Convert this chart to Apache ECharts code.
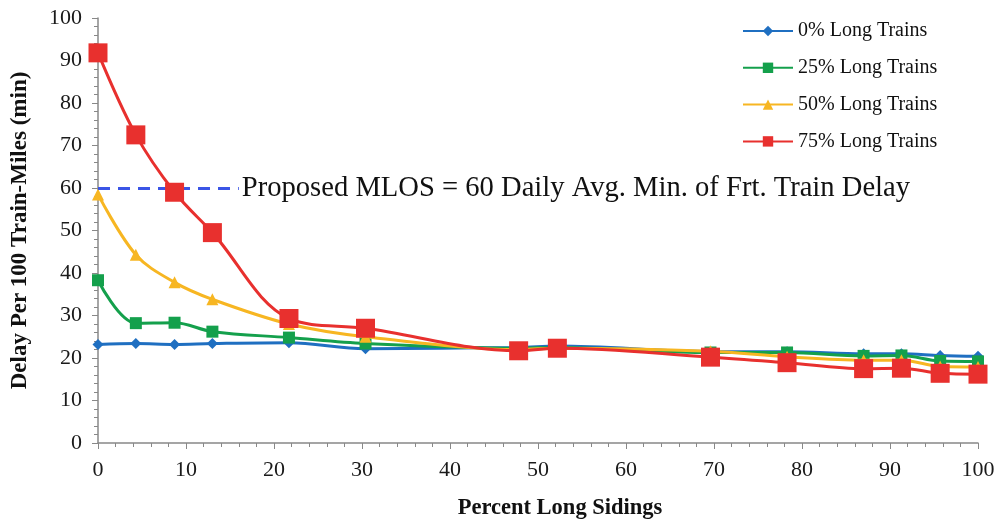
<!DOCTYPE html>
<html><head><meta charset="utf-8">
<script src="https://cdn.jsdelivr.net/npm/echarts@6/dist/echarts.min.js"></script>
<style>html,body{margin:0;padding:0;background:#fff}#c{width:999px;height:520px}</style>
</head><body><div id="c"></div>
<script>
const xValues = [0, 4.3, 8.7, 13.0, 21.7, 30.4, 47.8, 52.2, 69.6, 78.3, 87.0, 91.3, 95.7, 100];
const seriesNames = ['0% Long Trains', '25% Long Trains', '50% Long Trains', '75% Long Trains'];
const trains0 = [23.2, 23.4, 23.2, 23.4, 23.6, 22.2, 22.5, 22.8, 21.5, 21.5, 21.0, 21.0, 20.6, 20.4];
const trains25 = [38.3, 28.2, 28.3, 26.2, 24.8, 23.4, 22.3, 22.5, 21.3, 21.3, 20.5, 20.6, 19.3, 19.2];
const trains50 = [58.5, 44.3, 37.8, 33.8, 28.0, 25.0, 22.0, 22.3, 21.6, 20.3, 19.5, 19.5, 18.0, 17.9];
const trains75 = [91.8, 72.5, 59.0, 49.5, 29.3, 27.0, 21.7, 22.3, 20.2, 18.9, 17.5, 17.6, 16.4, 16.2];
const mlosValue = 60;
const mlosEndX = 16;
const mlosLabel = 'Proposed MLOS = 60 Daily Avg. Min. of Frt. Train Delay';
const xTicks = [0,10,20,30,40,50,60,70,80,90,100];

const pair = arr => xValues.map((x, i) => [x, arr[i]]);
const serif = '"Liberation Serif", "Times New Roman", serif';
const colors = ['#1f6fc1', '#14a04c', '#f7b622', '#e8302e'];
const symbols = ['diamond', 'rect', 'triangle', 'rect'];
const sizes = [11, 12, 12, 19];
const data = [trains0, trains25, trains50, trains75];

const series = data.map((d, i) => ({
  name: seriesNames[i], type: 'line', data: pair(d), smooth: 0.35,
  symbol: symbols[i], symbolSize: sizes[i], z: 2 + i,
  lineStyle: { width: 3, color: colors[i] },
  itemStyle: { color: colors[i] }
}));
series[0].markLine = {
  silent: true, symbol: 'none',
  lineStyle: { type: [12, 8], width: 3, color: '#3b55e6' },
  label: { show: true, position: 'end', formatter: mlosLabel, fontFamily: serif, fontSize: 28.6, color: '#111', distance: 3 },
  data: [[{ coord: [0, mlosValue] }, { coord: [mlosEndX, mlosValue] }]]
};

const chart = echarts.init(document.getElementById('c'));
chart.setOption({
  animation: false,
  color: colors,
  grid: { left: 98, right: 21, top: 18, bottom: 77, outerBoundsMode: 'none', containLabel: false },
  legend: {
    orient: 'vertical', left: 737, top: 16, itemGap: 16.8,
    itemWidth: 50, itemHeight: 13,
    textStyle: { fontFamily: serif, fontSize: 20, color: '#111' },
    data: seriesNames
  },
  xAxis: {
    type: 'value', min: 0, max: 100, interval: 10,
    name: 'Percent Long Sidings', nameLocation: 'middle', nameGap: 54,
    nameTextStyle: { fontFamily: serif, fontSize: 22.5, fontWeight: 'bold', color: '#111', padding: [0, 0, 0, 44] },
    axisLine: { lineStyle: { color: '#888', width: 1.5 } },
    axisTick: { show: true, length: 6, lineStyle: { color: '#888' } },
    minorTick: { show: true, splitNumber: 5, length: 4, lineStyle: { color: '#888' } },
    splitLine: { show: false },
    axisLabel: { fontFamily: serif, fontSize: 22, color: '#1a1a1a', margin: 16,
      formatter: v => xTicks.includes(v) ? String(v) : '' }
  },
  yAxis: {
    type: 'value', min: 0, max: 100, interval: 10,
    name: 'Delay Per 100 Train-Miles (min)', nameLocation: 'middle', nameGap: 66,
    nameTextStyle: { fontFamily: serif, fontSize: 23, fontWeight: 'bold', color: '#111' },
    axisLine: { show: true, lineStyle: { color: '#888', width: 1.5 } },
    axisTick: { show: true, length: 6, lineStyle: { color: '#888' } },
    minorTick: { show: true, splitNumber: 5, length: 4, lineStyle: { color: '#888' } },
    splitLine: { show: false },
    axisLabel: { fontFamily: serif, fontSize: 22, color: '#1a1a1a', margin: 16 }
  },
  series: series
});
</script></body></html>
